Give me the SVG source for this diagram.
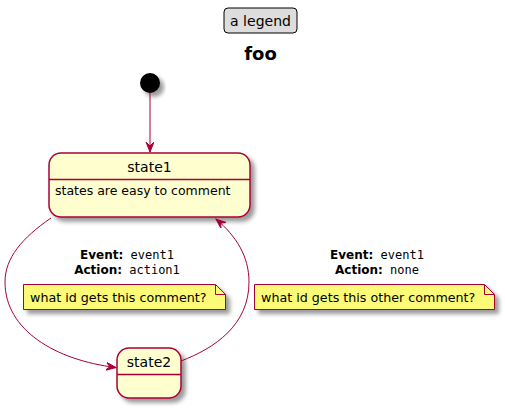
<svg xmlns="http://www.w3.org/2000/svg" width="505" height="408" viewBox="0 0 505 408">
<style>
text{font-family:"DejaVu Sans",sans-serif;fill:#000}
.state{fill:#FEFECE;stroke:#A80036;stroke-width:1.5}
.note{fill:#FBFB77;stroke:#A80036;stroke-width:1}
.edge{fill:none;stroke:#A80036;stroke-width:1}
.lbl{font-size:12px;text-anchor:middle}
.b{font-weight:bold}
.mono{font-family:"DejaVu Sans Mono",monospace}
</style>
<defs>
<filter id="sh" x="-20%" y="-20%" width="150%" height="160%">
<feGaussianBlur in="SourceAlpha" stdDeviation="2"/>
<feOffset dx="4" dy="4" result="o"/>
<feComponentTransfer><feFuncA type="linear" slope="0.4"/></feComponentTransfer>
<feMerge><feMergeNode/><feMergeNode in="SourceGraphic"/></feMerge>
</filter>
<marker id="ah" markerWidth="12" markerHeight="10" refX="10" refY="4" orient="auto" markerUnits="userSpaceOnUse">
<path d="M0,0 L10,4 L0,8 L4,4 Z" fill="#A80036" stroke="#A80036" stroke-width="1"/>
</marker>
</defs>
<g id="legend">
<rect x="224" y="8" width="73" height="25" rx="4" fill="#DDDDDD" stroke="#000" stroke-width="1"/>
<text x="260.5" y="26" font-size="14" text-anchor="middle">a legend</text>
</g>
<g id="title">
<text x="260.5" y="60" font-size="18" text-anchor="middle" font-weight="600">foo</text>
</g>
<g id="start">
<circle cx="150" cy="83" r="10" fill="#000" filter="url(#sh)"/>
</g>
<g id="state1">
<rect class="state" x="49" y="153" width="201" height="64" rx="12" filter="url(#sh)"/>
<line x1="49" y1="179.5" x2="250" y2="179.5" stroke="#A80036" stroke-width="1.5"/>
<text x="149.5" y="172" font-size="14" text-anchor="middle">state1</text>
<text x="55" y="195" font-size="12.5">states are easy to comment</text>
</g>
<g id="state2">
<rect class="state" x="117" y="348" width="64" height="50" rx="12" filter="url(#sh)"/>
<line x1="117" y1="374.5" x2="181" y2="374.5" stroke="#A80036" stroke-width="1.5"/>
<text x="149" y="367" font-size="14" text-anchor="middle">state2</text>
</g>
<g id="note1">
<path class="note" d="M23.5,284.5 H215.5 L225.5,294.5 V309.5 H23.5 Z" filter="url(#sh)"/>
<path d="M215.5,284.5 V294.5 H225.5" fill="none" stroke="#A80036"/>
<text x="30" y="302" font-size="12.7">what id gets this comment?</text>
</g>
<g id="note2">
<path class="note" d="M254.5,284.5 H484.5 L494.5,294.5 V309.5 H254.5 Z" filter="url(#sh)"/>
<path d="M484.5,284.5 V294.5 H494.5" fill="none" stroke="#A80036"/>
<text x="261" y="302" font-size="12.7">what id gets this other comment?</text>
</g>
<g id="connectors">
<path class="edge" d="M150,93 L150,152" marker-end="url(#ah)"/>
<path class="edge" d="M51,218 C22,238 5,258 5,282 C5,330 55,360 116,367.5" marker-end="url(#ah)"/>
<path class="edge" d="M181,361 C215,348 249,325 249,282 C249,256 236,236 216,219" marker-end="url(#ah)"/>
<text class="lbl" x="127" y="259"><tspan class="b">Event:</tspan><tspan class="mono"> event1</tspan></text>
<text class="lbl" x="127" y="274"><tspan class="b">Action:</tspan><tspan class="mono"> action1</tspan></text>
<text class="lbl" x="377" y="259"><tspan class="b">Event:</tspan><tspan class="mono"> event1</tspan></text>
<text class="lbl" x="377" y="274"><tspan class="b">Action:</tspan><tspan class="mono"> none</tspan></text>
</g>
</svg>
